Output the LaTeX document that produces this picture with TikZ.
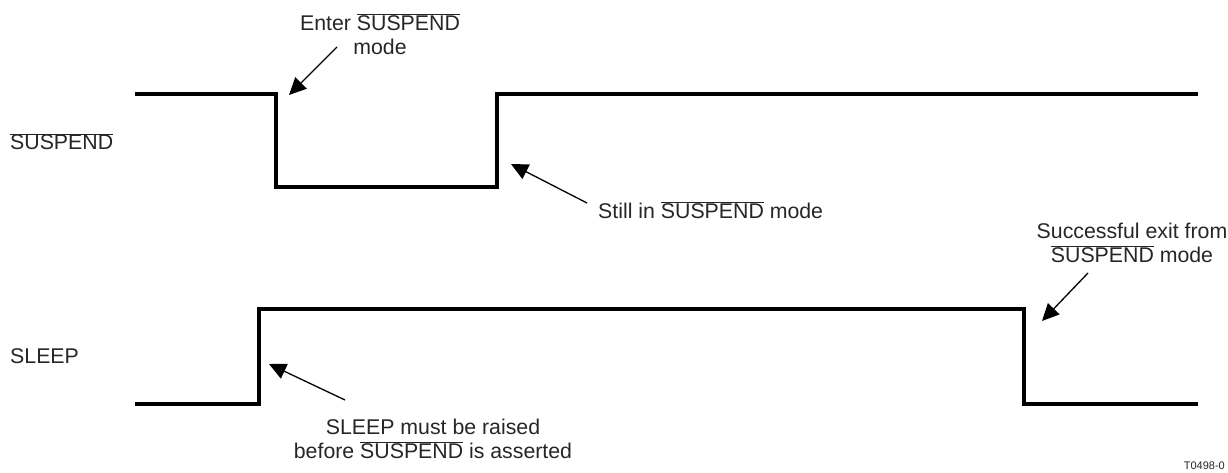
\documentclass[tikz,border=0pt]{standalone}
\usepackage{fontspec}
\setmainfont{Liberation Sans}
\usetikzlibrary{arrows.meta}
\newcommand\ovl[1]{$\overline{\hbox{#1}}$}
\tikzset{
  sig/.style={line width=3.6pt, line join=miter, line cap=rect},
  callout/.style={line width=1.3pt, -{Triangle[length=17pt,width=16pt]}},
  lbl/.style={font=\fontsize{21.3}{24}\selectfont, inner sep=0pt, align=center, text=black!85},
  small/.style={font=\fontsize{11}{13}\selectfont, inner sep=0pt, text=black!85}
}
\begin{document}
\begin{tikzpicture}[x=1pt,y=-1pt]
\useasboundingbox (0,0) rectangle (1228,473);
% signals
\draw[sig] (137,94) -- (276,94) -- (276,187) -- (497,187) -- (497,94) -- (1196,94);
\draw[sig] (137,404) -- (259,404) -- (259,309) -- (1024,309) -- (1024,404) -- (1196,404);
% signal names
\node[lbl, anchor=base west] (nsus) at (10,150) {\ovl{SUSPEND}};
\node[lbl, anchor=base west] (nsleep) at (10,363) {SLEEP};
% annotations
\node[lbl] (t1) at (380,34) {Enter \ovl{SUSPEND}\\mode};
\coordinate (t1s) at (337,47);
\coordinate (t1e) at (289,95);
\draw[callout] (t1s) -- (t1e);

\node[lbl, anchor=west] (t2) at (598,210) {Still in \ovl{SUSPEND} mode};
\coordinate (t2s) at (587,203);
\coordinate (t2e) at (511,164);
\draw[callout] (t2s) -- (t2e);

\node[lbl] (t3) at (1132,243) {Successful exit from\\\ovl{SUSPEND} mode};
\coordinate (t3s) at (1088,273);
\coordinate (t3e) at (1042,321);
\draw[callout] (t3s) -- (t3e);

\node[lbl] (t4) at (433,439) {SLEEP must be raised\\before \ovl{SUSPEND} is asserted};
\coordinate (t4s) at (345,400);
\coordinate (t4e) at (269,364);
\draw[callout] (t4s) -- (t4e);

\node[small, anchor=base east] (id) at (1225,469) {T0498-0};
\end{tikzpicture}
\end{document}
